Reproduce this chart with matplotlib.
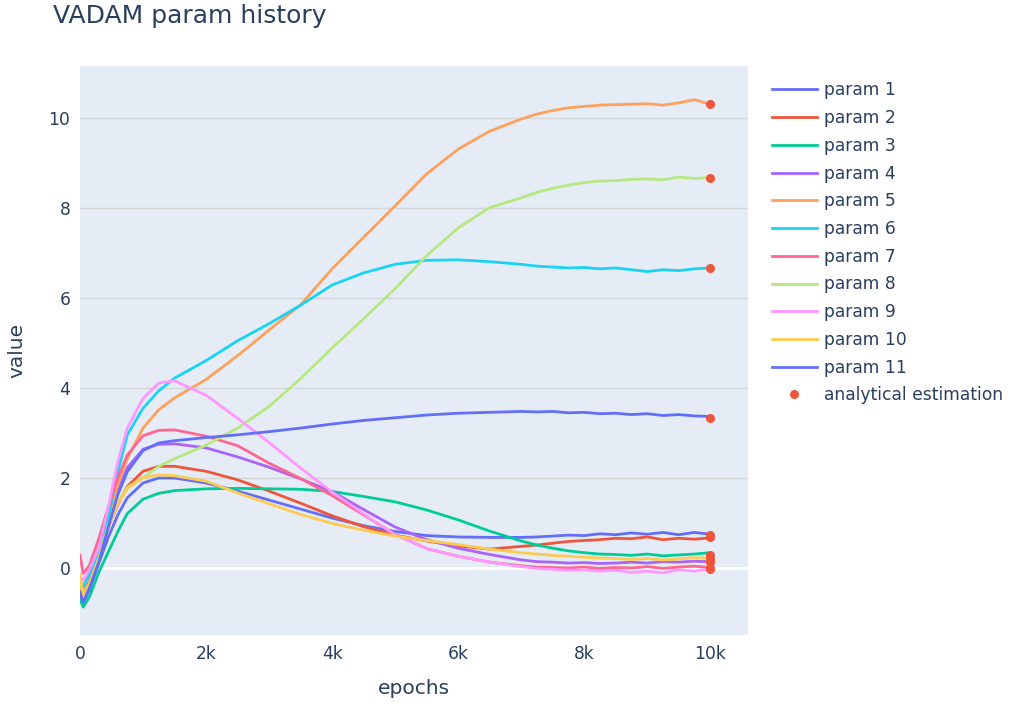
import matplotlib
matplotlib.use("Agg")
import numpy as np
import matplotlib.pyplot as plt

plt.rcParams['font.family'] = ['DejaVu Sans']

# training epochs at which parameter values were logged
epochs = [0, 50, 150, 300, 450, 600, 750, 1000, 1250, 1500, 2000, 2500, 3000,
          3500, 4000, 4500, 5000, 5500, 6000, 6500, 7000, 7250, 7500, 7750,
          8000, 8250, 8500, 8750, 9000, 9250, 9500, 9750, 10000]

param_1 = [-0.6, -0.79, -0.5, 0.1, 0.68, 1.17, 1.55, 1.88, 1.99, 1.99, 1.88, 1.7, 1.5,
           1.3, 1.1, 0.93, 0.8, 0.71, 0.68, 0.67, 0.67, 0.68, 0.7, 0.72,
           0.71, 0.75, 0.73, 0.77, 0.74, 0.78, 0.73, 0.78, 0.74]
param_2 = [-0.45, -0.6, -0.3, 0.28, 0.91, 1.4, 1.8, 2.14, 2.25, 2.25, 2.14, 1.95, 1.7,
           1.43, 1.15, 0.91, 0.72, 0.59, 0.48, 0.41, 0.47, 0.5, 0.54, 0.58,
           0.6, 0.62, 0.65, 0.64, 0.68, 0.62, 0.65, 0.63, 0.66]
param_3 = [-0.7, -0.88, -0.65, -0.1, 0.35, 0.8, 1.2, 1.52, 1.65, 1.71, 1.75, 1.76, 1.75,
           1.74, 1.69, 1.58, 1.46, 1.28, 1.06, 0.81, 0.59, 0.5, 0.43, 0.37,
           0.33, 0.3, 0.29, 0.27, 0.3, 0.26, 0.28, 0.3, 0.33]
param_4 = [-0.6, -0.75, -0.4, 0.2, 0.98, 1.7, 2.22, 2.63, 2.74, 2.75, 2.66, 2.46, 2.23,
           1.97, 1.69, 1.29, 0.9, 0.62, 0.43, 0.29, 0.17, 0.13, 0.12, 0.1,
           0.11, 0.09, 0.1, 0.12, 0.1, 0.13, 0.12, 0.14, 0.13]
param_5 = [-0.35, -0.45, -0.1, 0.3, 1.06, 1.85, 2.42, 3.1, 3.51, 3.77, 4.18, 4.71, 5.28,
           5.84, 6.64, 7.34, 8.04, 8.75, 9.3, 9.7, 9.97, 10.08, 10.16, 10.22,
           10.25, 10.28, 10.29, 10.3, 10.31, 10.28, 10.33, 10.4, 10.3]
param_6 = [-0.3, -0.43, -0.15, 0.35, 1.13, 2.12, 2.95, 3.54, 3.93, 4.21, 4.6, 5.04, 5.42,
           5.83, 6.28, 6.55, 6.74, 6.83, 6.84, 6.8, 6.74, 6.7, 6.68, 6.66,
           6.67, 6.64, 6.66, 6.62, 6.58, 6.62, 6.6, 6.64, 6.66]
param_7 = [0.27, -0.13, 0.05, 0.65, 1.35, 2.0, 2.5, 2.93, 3.05, 3.06, 2.92, 2.71, 2.32,
           1.98, 1.6, 1.17, 0.74, 0.42, 0.25, 0.12, 0.04, 0.01, 0.0, -0.01,
           0.01, -0.02, 0.0, -0.01, 0.02, -0.02, 0.01, 0.03, 0.0]
param_8 = [-0.3, -0.6, -0.35, 0.22, 0.95, 1.45, 1.78, 2.0, 2.25, 2.42, 2.72, 3.1, 3.58,
           4.2, 4.88, 5.53, 6.2, 6.93, 7.55, 8.0, 8.22, 8.34, 8.43, 8.5,
           8.56, 8.59, 8.6, 8.63, 8.64, 8.62, 8.68, 8.65, 8.67]
param_9 = [-0.2, -0.28, -0.05, 0.45, 1.35, 2.35, 3.1, 3.76, 4.1, 4.15, 3.83, 3.32, 2.78,
           2.21, 1.68, 1.19, 0.73, 0.42, 0.25, 0.12, 0.02, -0.02, -0.04, -0.06,
           -0.05, -0.08, -0.06, -0.11, -0.08, -0.12, -0.05, -0.08, -0.02]
param_10 = [-0.15, -0.65, -0.35, 0.2, 0.91, 1.42, 1.75, 2.0, 2.06, 2.04, 1.92, 1.66, 1.42,
            1.18, 0.98, 0.83, 0.7, 0.6, 0.51, 0.41, 0.33, 0.3, 0.27, 0.25,
            0.23, 0.21, 0.2, 0.18, 0.2, 0.17, 0.19, 0.22, 0.21]
param_11 = [-0.55, -0.77, -0.45, 0.13, 0.91, 1.62, 2.13, 2.6, 2.77, 2.82, 2.89, 2.95, 3.02,
            3.1, 3.19, 3.27, 3.33, 3.39, 3.43, 3.45, 3.47, 3.46, 3.47, 3.44,
            3.45, 3.42, 3.43, 3.4, 3.42, 3.38, 3.4, 3.37, 3.36]

history = [param_1, param_2, param_3, param_4, param_5, param_6,
           param_7, param_8, param_9, param_10, param_11]
labels = [f"param {i + 1}" for i in range(len(history))]

# closed-form estimate for each parameter, shown at the last epoch
analytical = [0.72, 0.68, 0.27, 0.12, 10.3, 6.65, 0.0, 8.67, -0.03, 0.2, 3.33]

colors = ['#636EFA', '#EF553B', '#00CC96', '#AB63FA', '#FFA15A', '#19D3F3',
          '#FF6692', '#B6E880', '#FF97FF', '#FECB52']
text_color = '#2a3f5f'

fig = plt.figure(figsize=(10.13, 7.04), dpi=100)
ax = fig.add_axes([0.079, 0.098, 0.6594, 0.8083])
ax.set_facecolor('#E5ECF6')

for i, (vals, lab) in enumerate(zip(history, labels)):
    ax.plot(epochs, vals, color=colors[i % len(colors)], lw=2.0, label=lab,
            zorder=3, solid_joinstyle='round')

ax.plot([epochs[-1]] * len(analytical), analytical, 'o', color='#EF553B',
        ms=6.5, mec='none', label='analytical estimation', zorder=4)

ax.set_xlim(0, 10600)
ax.set_ylim(-1.5, 11.15)
ax.set_xticks([0, 2000, 4000, 6000, 8000, 10000])
ax.set_xticklabels(['0', '2k', '4k', '6k', '8k', '10k'])
ax.set_yticks([0, 2, 4, 6, 8, 10])
ax.yaxis.grid(True, color='#d4d6da', lw=1.0, zorder=1)
ax.xaxis.grid(False)
ax.axhline(0, color='white', lw=2.2, zorder=2)
ax.set_axisbelow(True)
for s in ax.spines.values():
    s.set_visible(False)
ax.tick_params(length=0, labelsize=12.3, labelcolor=text_color, pad=7)

ax.set_xlabel('epochs', fontsize=14.5, color=text_color, labelpad=12)
ax.set_ylabel('value', fontsize=14.5, color=text_color, labelpad=16)

fig.text(0.052, 0.995, 'VADAM param history', fontsize=18, color=text_color,
         ha='left', va='top')

leg = ax.legend(loc='upper left', bbox_to_anchor=(1.026, 0.985), frameon=False,
                fontsize=12.3, labelcolor=text_color, handlelength=2.6,
                handletextpad=0.45, labelspacing=0.57, borderaxespad=0)

fig.savefig('out.png', dpi=100)
